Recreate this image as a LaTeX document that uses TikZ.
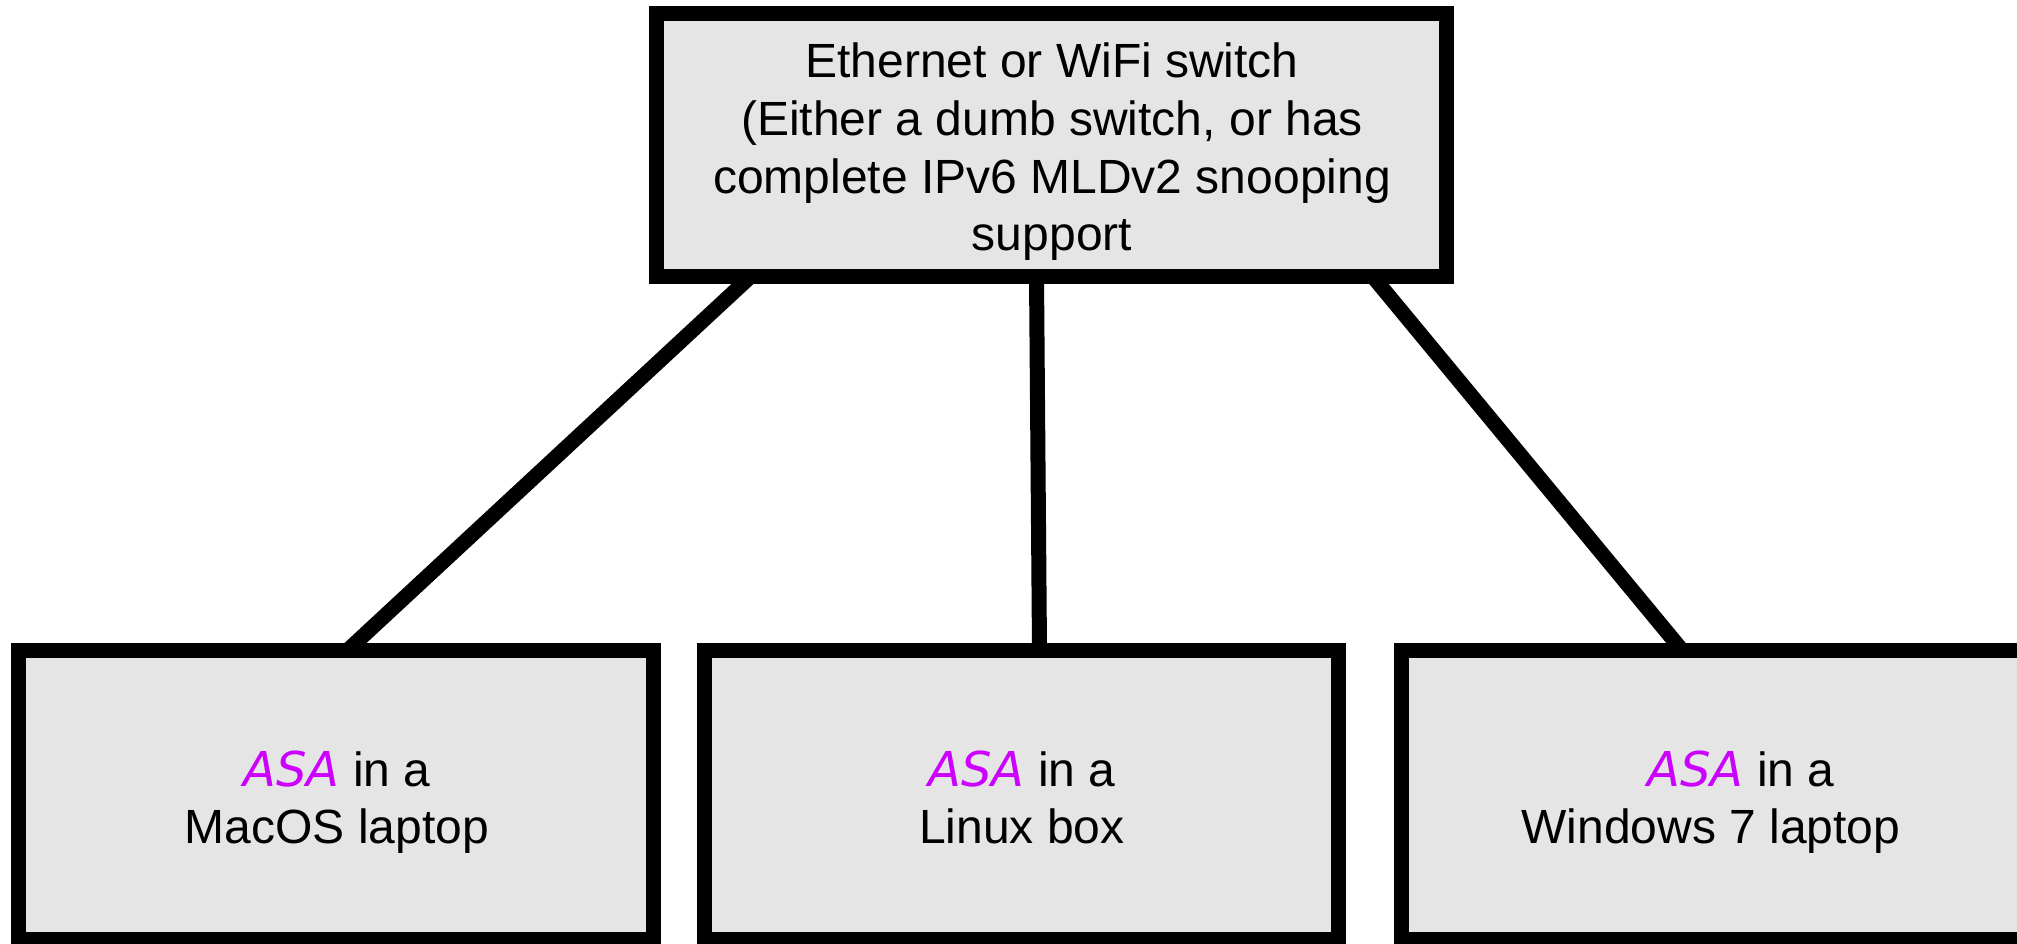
\documentclass[tikz,border=0pt]{standalone}
\usepackage{fontspec}
\setmainfont{Liberation Sans}
\newfontfamily\asafont{DejaVu Sans}
\usetikzlibrary{calc}
\definecolor{boxfill}{RGB}{229,229,229}
\definecolor{asacol}{RGB}{204,0,255}
\newcommand{\asa}{{\asafont\itshape\color{asacol}ASA}}
\tikzset{
  box/.style={draw=black, fill=boxfill, line width=7.5pt, rectangle, outer sep=0pt, inner sep=0pt},
  link/.style={draw=black, line width=7.5pt},
  txt/.style={anchor=base, inner sep=0pt, font=\fontsize{24pt}{28pt}\selectfont}
}
\begin{document}
\begin{tikzpicture}[x=0.5pt, y=-0.5pt]
\useasboundingbox[fill=white] (0,0) rectangle (2017,943);
% boxes
\node[box, minimum width=395pt, minimum height=131.5pt] (sw) at (1051.5,145) {};
\node[box, minimum width=317.5pt, minimum height=144.5pt] (mac) at (336,795) {};
\node[box, minimum width=317pt, minimum height=144.5pt] (lin) at (1021.5,795) {};
\node[box, minimum width=317.5pt, minimum height=144.5pt] (win) at (1719,795) {};
% connectors
\draw[link] ($(sw.south)+(-301,0)$) -- ($(mac.north)+(11.4,0)$);
\draw[link] ($(sw.south)+(-15,0)$) -- ($(lin.north)+(18,0)$);
\draw[link] ($(sw.south)+(321.3,0)$) -- ($(win.north)+(-36.8,0)$);
% switch text
\node[txt] (sw1) at (1052,77) {Ethernet or WiFi switch};
\node[txt] (sw2) at (1052,135) {(Either a dumb switch, or has};
\node[txt] (sw3) at (1052,193) {complete IPv6 MLDv2 snooping};
\node[txt] (sw4) at (1052,250) {support};
% host texts
\node[txt] (mac1) at (337,786) {\asa{} in a};
\node[txt] (mac2) at (337,843) {MacOS laptop};
\node[txt] (lin1) at (1022,786) {\asa{} in a};
\node[txt] (lin2) at (1022,843) {Linux box};
\node[txt] (win1) at (1741,786) {\asa{} in a};
\node[txt] (win2) at (1711,843) {Windows 7 laptop};
\end{tikzpicture}
\end{document}
